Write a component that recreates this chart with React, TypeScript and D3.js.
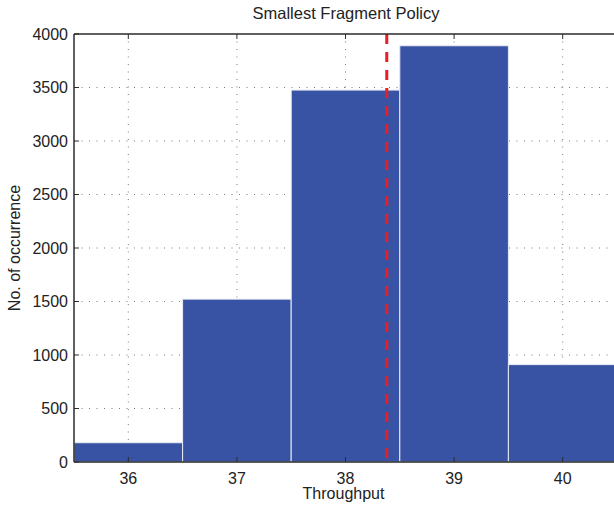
import React from "react";
import * as d3 from "d3";

const categories = [36, 37, 38, 39, 40];
const counts = [180, 1522, 3476, 3890, 910];
const yTicks = [0, 500, 1000, 1500, 2000, 2500, 3000, 3500, 4000];
const meanLine = 38.38;
const title = "Smallest Fragment Policy";
const xLabel = "Throughput";
const yLabel = "No. of occurrence";

const W = 614;
const H = 506;
const left = 74;
const right = 617;
const top = 34;
const bottom = 462;

export default function App() {
  const x = d3.scaleLinear().domain([35.5, 40.5]).range([left, right]);
  const y = d3.scaleLinear().domain([0, 4000]).range([bottom, top]);
  const font = "'Liberation Sans', Arial, Helvetica, sans-serif";
  const axisColor = "#2b2b2b";
  const gridColor = "#7a7a7a";
  return (
    <div style={{ position: "absolute", left: 0, top: 0 }}>
      <svg width={W} height={H} style={{ display: "block", background: "#fff" }}>
        {/* grid */}
        <g>
          {yTicks.slice(1, -1).map((t) => (
            <line key={"gy" + t} x1={left} x2={right} y1={y(t)} y2={y(t)} stroke={gridColor} strokeWidth={1} strokeDasharray="1,6.5" />
          ))}
          {categories.map((c) => (
            <line key={"gx" + c} x1={x(c)} x2={x(c)} y1={top} y2={bottom} stroke={gridColor} strokeWidth={1} strokeDasharray="1,6.5" />
          ))}
        </g>
        {/* bars */}
        <g>
          {categories.map((c, i) => (
            <rect
              key={"b" + c}
              x={x(c - 0.5)}
              y={y(counts[i])}
              width={x(c + 0.5) - x(c - 0.5)}
              height={bottom - y(counts[i])}
              fill="#3953a4"
              stroke="#e8eaf2"
              strokeWidth={1}
            />
          ))}
        </g>
        {/* mean line */}
        <line x1={x(meanLine)} x2={x(meanLine)} y1={top} y2={bottom} stroke="#ec1c24" strokeWidth={3} strokeDasharray="10,8" />
        {/* axes */}
        <g>
          <line x1={left} x2={right} y1={top} y2={top} stroke={axisColor} strokeWidth={1.5} />
          <line x1={left} x2={right} y1={bottom} y2={bottom} stroke={axisColor} strokeWidth={1.5} />
          <line x1={left} x2={left} y1={top} y2={bottom} stroke={axisColor} strokeWidth={1.5} />
          {yTicks.map((t) => (
            <g key={"ty" + t}>
              <line x1={left} x2={left + 5} y1={y(t)} y2={y(t)} stroke={axisColor} strokeWidth={1} />
              <text x={left - 6} y={y(t)} dy="0.36em" textAnchor="end" fontFamily={font} fontSize={16} fill="#222">
                {t}
              </text>
            </g>
          ))}
          {categories.map((c) => (
            <g key={"tx" + c}>
              <line x1={x(c)} x2={x(c)} y1={top} y2={top + 5} stroke={axisColor} strokeWidth={1} />
              <line x1={x(c)} x2={x(c)} y1={bottom} y2={bottom - 5} stroke={axisColor} strokeWidth={1} />
              <text x={x(c)} y={483.5} textAnchor="middle" fontFamily={font} fontSize={16} fill="#222">
                {c}
              </text>
            </g>
          ))}
        </g>
        <text x={346} y={19} textAnchor="middle" fontFamily={font} fontSize={16.5} fill="#222">
          {title}
        </text>
        <text x={(left + right) / 2 - 2} y={499} textAnchor="middle" fontFamily={font} fontSize={16} fill="#222">
          {xLabel}
        </text>
        <text
          transform={`translate(20, ${(top + bottom) / 2}) rotate(-90)`}
          textAnchor="middle"
          fontFamily={font}
          fontSize={16}
          fill="#222"
        >
          {yLabel}
        </text>
      </svg>
    </div>
  );
}
